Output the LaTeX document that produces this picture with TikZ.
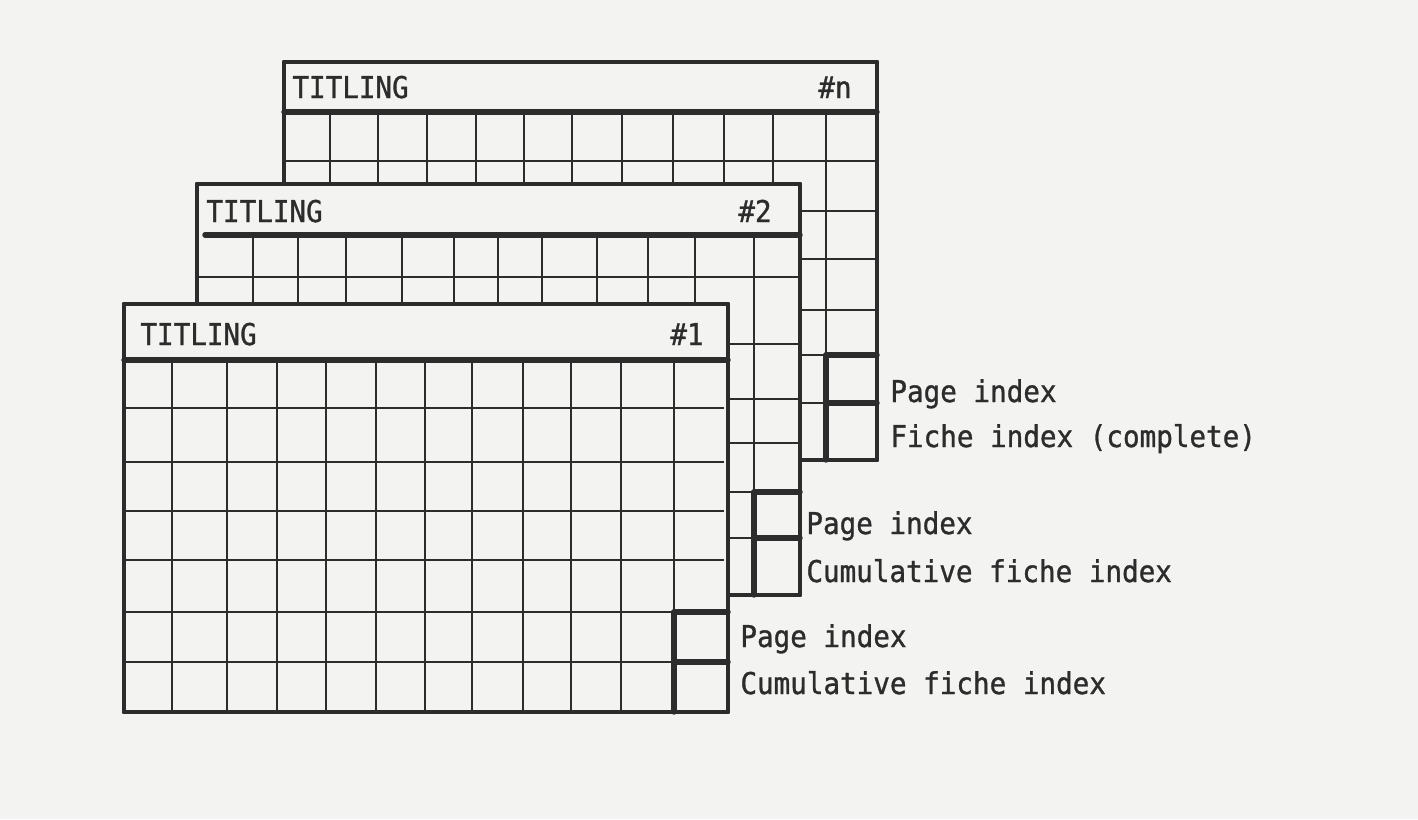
\documentclass[tikz,border=0pt]{standalone}
\usepackage{fontspec}
\newfontfamily\typer[FakeStretch=0.92,FakeBold=1]{DejaVu Sans Mono}
\definecolor{paper}{RGB}{243,243,241}
\definecolor{ink}{RGB}{44,44,44}
\begin{document}
\begin{tikzpicture}[x=0.5pt,y=-0.5pt,
  fichebox/.style={draw=ink,line width=2.3pt,fill=paper,line join=round},
  ficheedge/.style={draw=ink,line width=2.3pt,line join=round},
  gridline/.style={draw=ink,line width=1.2pt},
  thickline/.style={draw=ink,line width=2.7pt,line cap=round},
  typetext/.style={font=\typer\fontsize{15}{18}\selectfont,text=ink,inner sep=0pt}]
\useasboundingbox (0,0) rectangle (1418,819);
\fill[paper] (0,0) rectangle (1418,819);

% ---------- fiche #n ----------
\path[fichebox] (284,62) rectangle (877,460);
\foreach \x in {330,378,427,476,524,572,622,673,724,773,826}
  \draw[gridline] (\x,112) -- (\x,460);
\foreach \y in {161,211,259,310,355,403}
  \draw[gridline] (284,\y) -- (877,\y);
\draw[thickline] (284,112) -- (877,112);
\draw[thickline] (826,355) -- (826,460);
\draw[thickline] (826,355) -- (877,355);
\draw[thickline] (826,403) -- (877,403);
\path[ficheedge] (284,62) rectangle (877,460);
\node[typetext,anchor=base west] (tn) at (292,98) {TITLING};
\node[typetext,anchor=base east] (hn) at (852,98) {\#n};

% ---------- fiche #2 ----------
\path[fichebox] (197,184) rectangle (800,595);
\foreach \x in {253,298,346,402,454,498,542,597,648,695,754}
  \draw[gridline] (\x,235) -- (\x,595);
\foreach \y in {277,344,399,443,492,538}
  \draw[gridline] (197,\y) -- (800,\y);
\draw[thickline] (205,235) -- (800,235);
\draw[thickline] (754,492) -- (754,595);
\draw[thickline] (754,492) -- (800,492);
\draw[thickline] (754,538) -- (800,538);
\path[ficheedge] (197,184) rectangle (800,595);
\node[typetext,anchor=base west] (t2) at (206,222) {TITLING};
\node[typetext,anchor=base east] (h2) at (772,222) {\#2};

% ---------- fiche #1 ----------
\path[fichebox] (124,304) rectangle (728,712);
\foreach \x in {172,227,277,326,376,425,472,523,571,621,674}
  \draw[gridline] (\x,360) -- (\x,712);
\foreach \y in {408,462,511,560,612,662}
  \draw[gridline] (124,\y) -- (724,\y);
\draw[thickline] (124,360) -- (728,360);
\draw[thickline] (674,612) -- (674,712);
\draw[thickline] (674,612) -- (728,612);
\draw[thickline] (674,662) -- (728,662);
\path[ficheedge] (124,304) rectangle (728,712);
\node[typetext,anchor=base west] (t1) at (140,345) {TITLING};
\node[typetext,anchor=base east] (h1) at (704,345) {\#1};

% ---------- index labels ----------
\node[typetext,anchor=base west] (pn) at (890,402) {Page index};
\node[typetext,anchor=base west] (fn) at (890,447) {Fiche index (complete)};
\node[typetext,anchor=base west] (p2) at (806,534) {Page index};
\node[typetext,anchor=base west] (c2) at (806,582) {Cumulative fiche index};
\node[typetext,anchor=base west] (p1) at (740,647) {Page index};
\node[typetext,anchor=base west] (c1) at (740,694) {Cumulative fiche index};
\end{tikzpicture}
\end{document}
